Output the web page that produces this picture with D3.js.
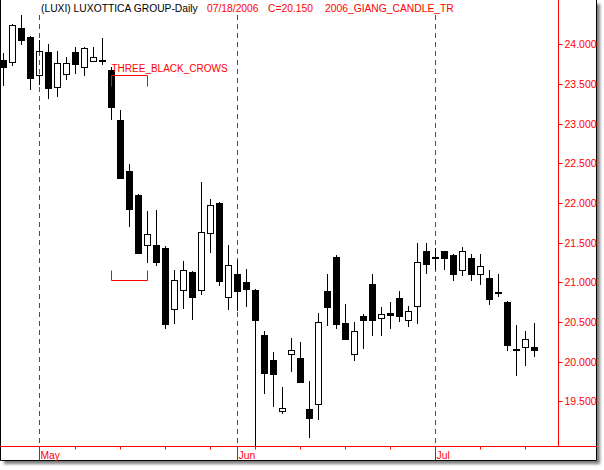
<!DOCTYPE html>
<html><head><meta charset="utf-8">
<script src="https://cdn.jsdelivr.net/npm/d3@7"></script>
<style>html,body{margin:0;padding:0;background:#fff;} svg{display:block;}</style>
</head><body>
<svg id="c" width="604" height="470"></svg>
<script>
// ---- data ----
const dates = ["2006-04-25","2006-04-26","2006-04-27","2006-04-28",
"2006-05-01","2006-05-02","2006-05-03","2006-05-04","2006-05-05","2006-05-08","2006-05-09","2006-05-10","2006-05-11","2006-05-12",
"2006-05-15","2006-05-16","2006-05-17","2006-05-18","2006-05-19","2006-05-22","2006-05-23","2006-05-24","2006-05-25","2006-05-26",
"2006-05-30","2006-05-31",
"2006-06-01","2006-06-02","2006-06-05","2006-06-06","2006-06-07","2006-06-08","2006-06-09","2006-06-12","2006-06-13","2006-06-14",
"2006-06-15","2006-06-16","2006-06-19","2006-06-20","2006-06-21","2006-06-22","2006-06-23","2006-06-26","2006-06-27","2006-06-28",
"2006-06-29","2006-06-30",
"2006-07-03","2006-07-04","2006-07-05","2006-07-06","2006-07-07","2006-07-10","2006-07-11","2006-07-12","2006-07-13","2006-07-14",
"2006-07-17","2006-07-18"];
const open  = [23.80,23.78,24.20,24.09,23.61,23.90,23.46,23.63,23.90,23.71,23.79,23.80,23.68,23.05,22.40,22.10,21.47,21.47,21.43,20.66,
20.90,21.13,20.90,21.62,22.00,20.82,21.11,21.00,20.90,20.34,20.02,19.38,20.09,20.05,19.40,19.47,20.89,21.32,20.49,20.09,
20.58,20.98,20.55,20.61,20.80,20.53,20.70,21.40,21.32,21.39,21.34,21.16,21.30,21.11,21.06,20.88,20.75,20.16,20.19,20.18];
const high  = [23.89,24.25,24.37,24.10,24.05,24.01,23.91,23.84,23.96,23.96,23.96,24.08,23.71,23.17,22.49,22.11,21.90,21.91,21.46,21.15,
21.27,21.14,22.26,22.05,22.01,21.47,21.28,21.17,20.91,20.39,20.12,19.68,20.30,20.25,19.76,20.61,21.10,21.34,20.73,20.50,
20.60,21.10,20.69,20.75,20.89,20.70,21.50,21.50,21.43,21.40,21.36,21.44,21.36,21.36,21.16,21.11,20.76,20.46,20.39,20.49];
const low   = [23.47,23.73,23.99,23.42,23.49,23.31,23.34,23.55,23.62,23.60,23.78,23.74,23.05,22.31,21.70,21.36,21.24,21.21,20.41,20.48,
20.66,20.52,20.84,21.37,20.95,20.65,20.64,20.69,18.80,19.59,19.43,19.34,19.87,19.73,19.04,19.26,20.45,20.41,20.28,20.01,
20.16,20.32,20.32,20.41,20.50,20.44,20.48,21.10,21.15,21.15,21.02,21.08,21.02,20.97,20.72,20.81,20.14,19.82,19.94,20.06];
const close = [23.71,24.24,24.06,23.58,23.92,23.45,23.77,23.77,23.75,23.95,23.84,23.79,23.21,22.32,21.93,21.37,21.61,21.26,20.48,21.03,
21.16,20.81,21.63,21.97,21.02,21.22,20.89,20.91,20.53,19.86,19.84,19.42,20.15,19.74,19.29,20.50,20.69,20.48,20.29,20.39,
20.53,20.52,20.60,20.59,20.57,20.64,21.26,21.23,21.30,21.31,21.10,21.39,21.11,21.20,20.79,20.87,20.21,20.15,20.29,20.15];

const yTicks = [19.5,20.0,20.5,21.0,21.5,22.0,22.5,23.0,23.5,24.0];
const monthStarts = ["2006-05-01","2006-06-01","2006-07-03"];
const monthLabels = ["May","Jun","Jul"];
const weekTicks = ["2006-05-05","2006-05-12","2006-05-19","2006-05-26","2006-06-05","2006-06-12","2006-06-19","2006-06-26",
"2006-07-03","2006-07-10","2006-07-17"];

const titleText = "(LUXI) LUXOTTICA GROUP-Daily";
const dateText = "07/18/2006";
const closeText = "C=20.150";
const studyText = "2006_GIANG_CANDLE_TR";
const patternName = "THREE_BLACK_CROWS";
const patternFrom = "2006-05-11", patternTo = "2006-05-17";
const patternTop = 23.61, patternBottom = 21.03;

// ---- layout ----
const W = 604, H = 470;
const frameR = 597, frameB = 461;
const axisX = 558.5, axisY = 446.5;
const RED = "#ff0000";
const FONT = "'Liberation Sans', Arial, sans-serif";

const svg = d3.select("#c");
const defs = svg.append("defs");
const f = defs.append("filter").attr("id","sh").attr("x","-5%").attr("y","-5%").attr("width","110%").attr("height","110%");
f.append("feGaussianBlur").attr("stdDeviation",1.6);
defs.append("clipPath").attr("id","plot").append("rect")
  .attr("x",1).attr("y",0).attr("width",axisX-1).attr("height",axisY);

// shadow
svg.append("rect").attr("x",4).attr("y",4).attr("width",frameR-1).attr("height",frameB-1)
  .attr("fill","#7a7a7a").attr("filter","url(#sh)");
svg.append("rect").attr("x",0).attr("y",0).attr("width",frameR).attr("height",frameB).attr("fill","#fff");
// frame (no top edge)
svg.append("path").attr("d",`M0.5,0V${frameB-0.5}H${frameR-0.5}V0`)
  .attr("fill","none").attr("stroke","#000").attr("stroke-width",1);

const x = d3.scalePoint().domain(dates).range([3.5, 534.5]);
const y = d3.scaleLinear().domain([19.5, 24]).range([401.3, 44.3]);
const snap = v => Math.round(v) + 0.5;

// month dashed lines
const g = svg.append("g");
monthStarts.forEach((d,k) => {
  const xx = x(d);
  g.append("line").attr("x1",xx).attr("x2",xx).attr("y1",15).attr("y2",axisY)
    .attr("stroke",RED).attr("stroke-width",1).attr("stroke-dasharray","5,4");
  g.append("line").attr("x1",xx).attr("x2",xx).attr("y1",axisY).attr("y2",frameB-1)
    .attr("stroke",RED).attr("stroke-width",1);
  g.append("text").attr("x",xx+1).attr("y",459).text(monthLabels[k])
    .attr("fill",RED).attr("font-family",FONT).attr("font-size","10.3px");
});

// x axis
svg.append("line").attr("x1",0).attr("x2",frameR).attr("y1",axisY).attr("y2",axisY)
  .attr("stroke",RED).attr("stroke-width",1);
weekTicks.forEach(d => {
  const xx = x(d);
  svg.append("line").attr("x1",xx).attr("x2",xx).attr("y1",axisY).attr("y2",axisY+3)
    .attr("stroke",RED).attr("stroke-width",1);
});

// y axis (right)
const yAxis = d3.axisRight(y).tickValues(yTicks).tickFormat(d3.format(".3f")).tickSize(4).tickPadding(2);
const ya = svg.append("g").attr("transform",`translate(${axisX},0)`).call(yAxis);
ya.select(".domain").remove();
ya.selectAll(".tick").attr("transform", d => `translate(0,${snap(y(d))-0.5})`);
ya.selectAll(".tick line").attr("stroke",RED).attr("y1",0.5).attr("y2",0.5);
ya.selectAll(".tick text").attr("fill",RED).attr("font-family",FONT).attr("font-size","10.5px").attr("dy","0.36em");
svg.append("line").attr("x1",axisX).attr("x2",axisX).attr("y1",0).attr("y2",axisY)
  .attr("stroke",RED).attr("stroke-width",1);

// candles
const cg = svg.append("g").attr("clip-path","url(#plot)");
dates.forEach((d,i) => {
  const cx = x(d);
  const yo = snap(y(open[i])), yc = snap(y(close[i]));
  const top = Math.min(yo,yc), bot = Math.max(yo,yc);
  const yh = Math.round(y(high[i])), yl = Math.round(y(low[i]));
  if (yh < top) cg.append("line").attr("x1",cx).attr("x2",cx).attr("y1",yh).attr("y2",top).attr("stroke","#000");
  if (yl > bot) cg.append("line").attr("x1",cx).attr("x2",cx).attr("y1",bot).attr("y2",Math.min(yl,axisY)).attr("stroke","#000");
  const down = close[i] < open[i];
  if (bot - top < 1) {
    cg.append("line").attr("x1",cx-3.5).attr("x2",cx+3.5).attr("y1",top).attr("y2",top).attr("stroke","#000");
  } else {
    cg.append("rect").attr("x",cx-3).attr("y",top).attr("width",6).attr("height",bot-top)
      .attr("fill", down ? "#000" : "none").attr("stroke","#000").attr("stroke-width",1);
  }
});

// pattern annotation
const px1 = snap(x(patternFrom)-0.5), px2 = snap(x(patternTo)-0.5);
const pt = snap(y(patternTop)), pb = snap(y(patternBottom));
svg.append("path").attr("d",`M${px1},${pt+11}V${pt}H${px2}V${pt+11}`).attr("fill","none").attr("stroke",RED);
svg.append("path").attr("d",`M${px1},${pb-10}V${pb}H${px2}V${pb-10}`).attr("fill","none").attr("stroke",RED);
svg.append("text").attr("x",px1).attr("y",pt-3.5).text(patternName)
  .attr("fill",RED).attr("font-family",FONT).attr("font-size","10px");

// header
const hdr = [[titleText,41,"#000"],[dateText,207,RED],[closeText,268,RED],[studyText,325,RED]];
hdr.forEach(([t,xx,c]) => svg.append("text").attr("x",xx).attr("y",11.5).text(t)
  .attr("fill",c).attr("font-family",FONT).attr("font-size","10.3px"));
</script>
</body></html>
